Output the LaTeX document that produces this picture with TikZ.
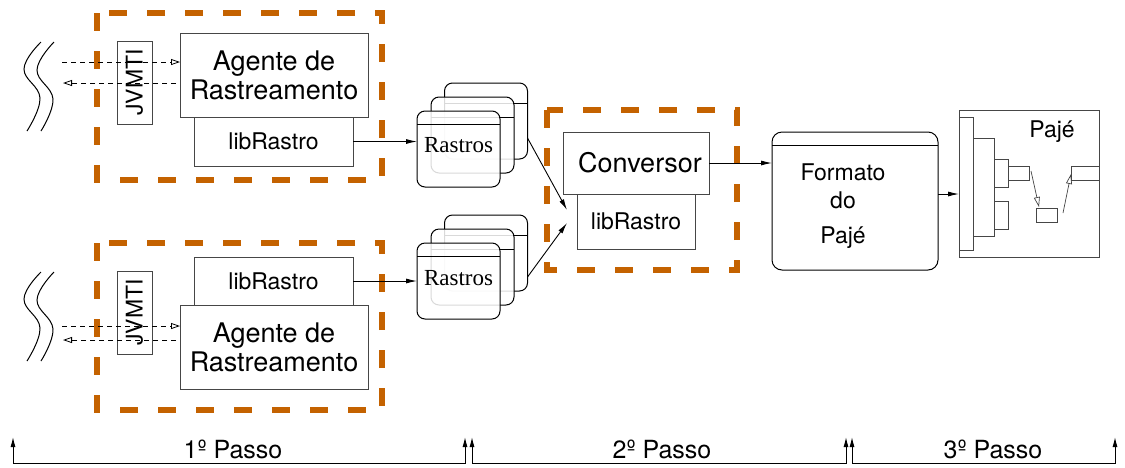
\documentclass[tikz,border=0pt]{standalone}
\usepackage{fontspec}
\setmainfont{Liberation Serif}
\newfontfamily\hv{TeX Gyre Heros}
\usetikzlibrary{arrows.meta,calc}
\definecolor{rust}{RGB}{196,98,0}
\definecolor{edge}{RGB}{70,70,70}

\tikzset{
  box/.style={draw=edge, line width=1pt, fill=white, inner sep=0pt, outer sep=0pt,
    align=center, font=\hv\fontsize{23}{27}\selectfont},
  bigbox/.style={box, font=\hv\fontsize{27}{29}\selectfont},
  thinbox/.style={draw=edge, line width=0.8pt, fill=white, inner sep=0pt, outer sep=0pt},
  group/.style={draw=rust, line width=6pt, dash pattern=on 18pt off 20pt},
  flow/.style={line width=0.9pt, -{Latex[length=11pt,width=5pt]}},
  call/.style={line width=0.8pt, dash pattern=on 5pt off 4pt,
    -{Triangle[open,length=9pt,width=6pt]}},
  pjarrow/.style={line width=0.7pt, draw=edge, -{Triangle[open,length=10pt,width=6pt]}},
  wave/.style={line width=1pt},
  trace/.style={draw=black, line width=1pt, rounded corners=8pt, fill=white,
    fill opacity=0.85, inner sep=0pt, outer sep=0pt, minimum width=83pt, minimum height=76pt},
  txt/.style={font=\hv\fontsize{23}{27}\selectfont, inner sep=0pt},
  steplabel/.style={font=\hv\fontsize{25}{29}\selectfont, inner sep=0pt, anchor=base},
  ruler/.style={line width=1pt, {Latex[length=10pt,width=5pt]}-{Latex[length=10pt,width=5pt]}},
}

\begin{document}
\begin{tikzpicture}[x=1pt, y=-1pt]
\useasboundingbox (0,0) rectangle (1125,467);

% ---------- upper tracing agent ----------
\draw[group] (97,13) rectangle (382,180);
\node[box, minimum width=159pt, minimum height=49pt] (libT) at (273.5,141.5) {libRastro};
\node[bigbox, minimum width=188pt, minimum height=84pt] (agT) at (274,75) {Agente de\\Rastreamento};
\node[box, minimum width=35pt, minimum height=83pt] (jvT) at (134.5,82.5) {\rotatebox{90}{JVMTI}};
\draw[wave] plot[smooth, tension=0.7] coordinates {(41,42) (24,69) (40,98) (27,131)};
\draw[wave] plot[smooth, tension=0.7] coordinates {(54,42) (37,70) (53,99) (41,131)};
\coordinate (jT1) at (62,62);
\coordinate (jT2) at (63,83);
\draw[call] (jT1) -- (jT1 -| agT.west);
\draw[call] ($(jT2 -| agT.west)+(-4,0)$) -- (jT2);

% ---------- lower tracing agent ----------
\draw[group] (97,243) rectangle (382,410);
\node[box, minimum width=159pt, minimum height=48pt] (libB) at (273.5,281) {libRastro};
\node[bigbox, minimum width=188pt, minimum height=84pt] (agB) at (274,347) {Agente de\\Rastreamento};
\node[box, minimum width=35pt, minimum height=83pt] (jvB) at (134.5,312.5) {\rotatebox{90}{JVMTI}};
\draw[wave] plot[smooth, tension=0.7] coordinates {(41,272) (24,299) (40,328) (27,361)};
\draw[wave] plot[smooth, tension=0.7] coordinates {(54,272) (37,300) (53,329) (41,361)};
\coordinate (jB1) at (62,326);
\coordinate (jB2) at (63,340);
\draw[call] (jB1) -- (jB1 -| agB.west);
\draw[call] ($(jB2 -| agB.west)+(-4,0)$) -- (jB2);

% ---------- trace file stacks ----------
\node[trace] (rT3) at (486,121) {};
\draw ($(rT3.north west)+(0,20)$) -- ($(rT3.north east)+(0,20)$);
\node[trace] (rT2) at (472.5,135) {};
\draw ($(rT2.north west)+(0,20)$) -- ($(rT2.north east)+(0,20)$);
\node[trace] (rT1) at (458.5,149) {};
\draw ($(rT1.north west)+(0,13)$) -- ($(rT1.north east)+(0,13)$);
\node[font=\fontsize{23}{27}\selectfont, inner sep=0pt] (rtT) at (458.5,145) {Rastros};

\node[trace] (rB3) at (486,253) {};
\draw ($(rB3.north west)+(0,20)$) -- ($(rB3.north east)+(0,20)$);
\node[trace] (rB2) at (472.5,267) {};
\draw ($(rB2.north west)+(0,20)$) -- ($(rB2.north east)+(0,20)$);
\node[trace] (rB1) at (458.5,281) {};
\draw ($(rB1.north west)+(0,13)$) -- ($(rB1.north east)+(0,13)$);
\node[font=\fontsize{23}{27}\selectfont, inner sep=0pt] (rtB) at (458.5,278) {Rastros};

\draw[flow] (libT.east) -- (libT.east -| rT1.west);
\draw[flow] (libB.east) -- (libB.east -| rB1.west);

% ---------- converter ----------
\draw[group] (547,110) rectangle (737,270);
\node[bigbox, minimum width=146pt, minimum height=62pt] (conv) at (636,163) {\hspace*{8pt}Conversor};
\node[box, minimum width=118pt, minimum height=55pt] (libC) at (636,221.5) {libRastro};
\draw[flow] ($(rT3.east)+(0,17)$) -- ($(libC.west)+(-10,-11.5)$);
\draw[flow] ($(rB3.east)+(0,24)$) -- ($(libC.west)+(-10,1.5)$);

% ---------- Paje trace format ----------
\node[draw=black, line width=1pt, rounded corners=10pt, minimum width=166pt,
      minimum height=138pt, inner sep=0pt, outer sep=0pt] (fm) at (855,201) {};
\draw[line width=1pt] ($(fm.north west)+(0,13)$) -- ($(fm.north east)+(0,13)$);
\node[txt, anchor=base] (fm1) at (843,180) {Formato};
\node[txt, anchor=base] (fm2) at (843,208) {do};
\node[txt, anchor=base] (fm3) at (843,243) {Pajé};
\draw[flow] (conv.east) -- (conv.east -| fm.west);

% ---------- Paje window ----------
\node[thinbox, minimum width=140pt, minimum height=147pt] (pj) at (1029,183.5) {};
\node[thinbox, minimum width=14pt, minimum height=133pt] (pjBar) at (966,183.5) {};
\node[thinbox, minimum width=21pt, minimum height=98pt] (pjBlk) at (983.5,187) {};
\node[thinbox, minimum width=14pt, minimum height=28pt] (pjS1) at (1001,173) {};
\node[thinbox, minimum width=14pt, minimum height=28pt] (pjS2) at (1001,215) {};
\node[thinbox, minimum width=21pt, minimum height=14pt] (pjTab) at (1018.5,173) {};
\node[thinbox, minimum width=28pt, minimum height=14pt] (pjDst) at (1085,173) {};
\node[thinbox, minimum width=21pt, minimum height=14pt] (pjMid) at (1046.5,215) {};
\node[txt, anchor=base] (pjT) at (1052,137) {Pajé};
\coordinate (pa1) at (1031,171);
\coordinate (pa2) at (1039,207);
\coordinate (pa3) at (1063,213);
\coordinate (pa4) at (1071,174);
\draw[pjarrow] (pa1) -- (pa2);
\draw[pjarrow] (pa3) -- (pa4);
\draw[flow] ($(fm.east)+(0,-7)$) -- ($(fm.east -| pj.west)+(0,-7)$);

% ---------- steps ruler ----------
\coordinate (s1a) at (13,437);  \coordinate (s1b) at (465,437);
\coordinate (s2a) at (472,437); \coordinate (s2b) at (846,437);
\coordinate (s3a) at (852,437); \coordinate (s3b) at (1115,437);
\draw[ruler] (s1a) -- (s1a |- 0,463) -- (s1b |- 0,463) -- (s1b);
\draw[ruler] (s2a) -- (s2a |- 0,463) -- (s2b |- 0,463) -- (s2b);
\draw[ruler] (s3a) -- (s3a |- 0,463) -- (s3b |- 0,463) -- (s3b);
\node[steplabel] (p1) at (233,458) {1º Passo};
\node[steplabel] (p2) at (662,458) {2º Passo};
\node[steplabel] (p3) at (993,458) {3º Passo};
\end{tikzpicture}
\end{document}
